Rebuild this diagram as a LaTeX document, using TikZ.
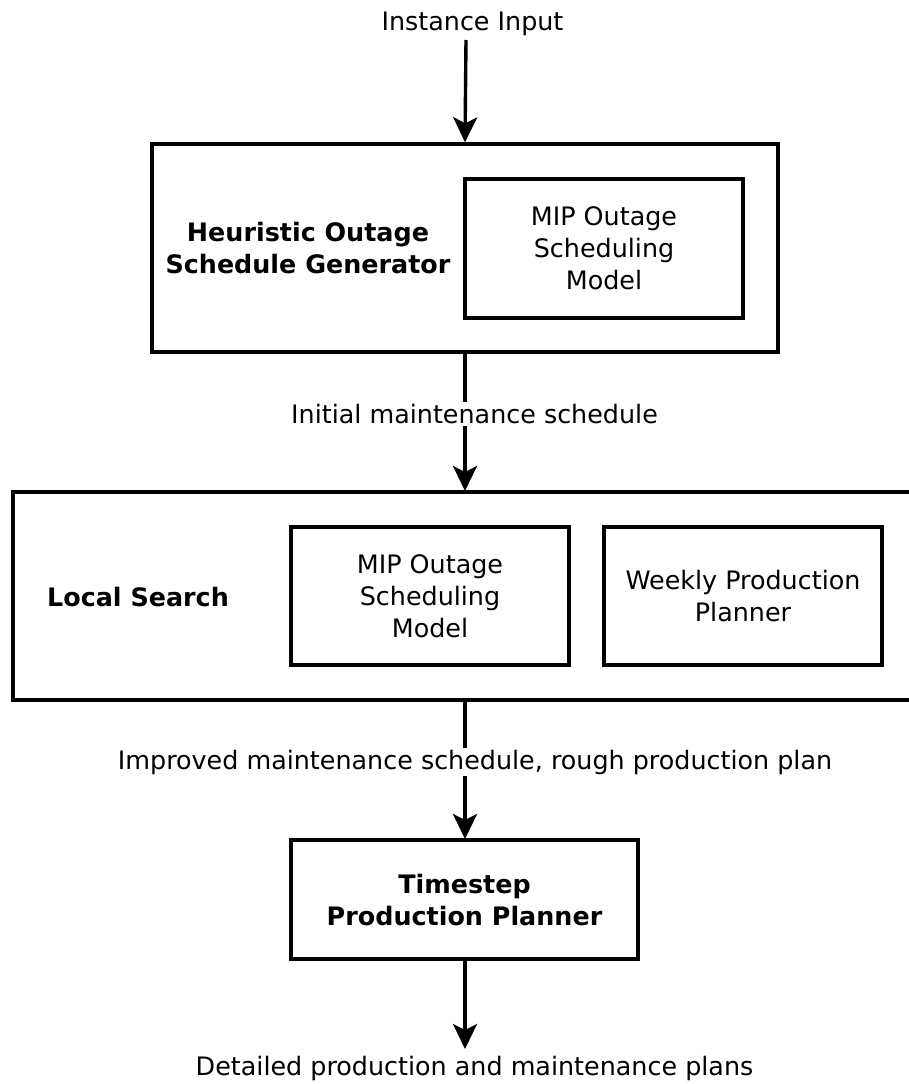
\documentclass[tikz,border=0pt]{standalone}
\usepackage{fontspec}
\setmainfont{DejaVu Sans}
\usetikzlibrary{arrows.meta}
\begin{document}
\begin{tikzpicture}[x=1pt,y=-1pt,
  every node/.style={font=\fontsize{25.4}{32}\selectfont, align=center, inner sep=0pt},
  box/.style={draw, line width=3.4pt},
  flow/.style={line width=3.4pt, -{Stealth[length=25pt,width=24pt,inset=6pt]}},
  lbl/.style={fill=white, inner sep=2pt},
  head/.style={font=\fontsize{25.4}{32}\selectfont\bfseries}]
\useasboundingbox (0,0) rectangle (908,1084);

% input
\node (ii) at (472.5,24) {Instance Input};
\coordinate (inA) at (466,40);

% heuristic generator
\node[box, minimum width=626pt, minimum height=208pt] (h) at (465,248) {};
\node[head] (ht) at (308,248) {Heuristic Outage\\Schedule Generator};
\node[box, minimum width=278pt, minimum height=139pt] (m1) at (604,248.5) {MIP Outage\\Scheduling\\Model};

% local search
\node[box, minimum width=906pt, minimum height=208pt] (ls) at (466,596) {};
\node[head] (lst) at (138,597) {Local Search};
\node[box, minimum width=278pt, minimum height=138pt] (m2) at (430,596) {MIP Outage\\Scheduling\\Model};
\node[box, minimum width=278pt, minimum height=138pt] (wp) at (743,596) {Weekly Production\\Planner};

% timestep planner
\node[box, minimum width=347pt, minimum height=119pt] (tp) at (464.5,899.5) {};
\node[head] (tpt) at (464.5,900) {Timestep\\Production Planner};

% output
\node (out) at (474.5,1068) {Detailed production and maintenance plans};
\coordinate (outA) at (465,1049);
\coordinate (hS) at (465,352);
\coordinate (lsN) at (465,491);
\coordinate (lsS) at (465,700);
\coordinate (tpN) at (465,839);
\coordinate (tpS) at (465,959);

% connectors
\draw[flow] (inA) -- (h.north);
\draw[flow] (hS) -- (lsN);
\draw[flow] (lsS) -- (tpN);
\draw[flow] (tpS) -- (outA);

% connector labels
\node[lbl] (l1) at (474.5,414) {Initial maintenance schedule};
\node[lbl] (l2) at (475,762) {Improved maintenance schedule, rough production plan};
\end{tikzpicture}
\end{document}
